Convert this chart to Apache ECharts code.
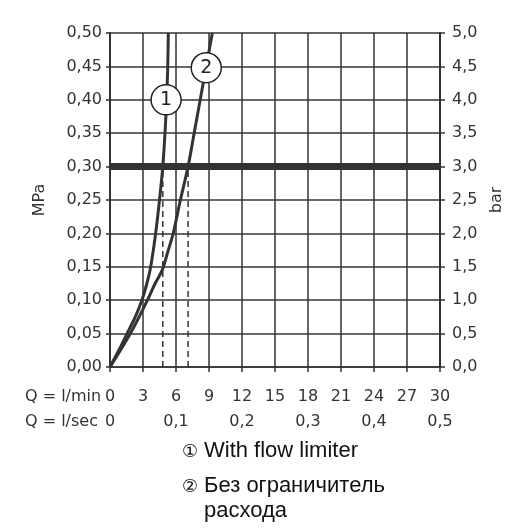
<!DOCTYPE html>
<html><head><meta charset="utf-8">
<script src="https://cdn.jsdelivr.net/npm/echarts@6/dist/echarts.min.js"></script>
<style>html,body{margin:0;padding:0;background:#fff}#c{width:530px;height:530px}</style>
</head><body><div id="c"></div>
<script>
// Flow (l/min) vs pressure (MPa)
const curve1Q = [0, 0.8, 1.55, 2.3, 2.9, 3.35, 3.7, 4.15, 4.5, 4.8, 5.0, 5.15, 5.25, 5.3];
const curve1P = [0, 0.025, 0.05, 0.075, 0.1, 0.125, 0.15, 0.2, 0.25, 0.3, 0.35, 0.4, 0.45, 0.5];
const curve2Q = [0, 0.95, 1.85, 2.65, 3.4, 4.1, 4.75, 5.3, 5.75, 6.4, 7.1, 7.65, 8.2, 8.75, 9.3];
const curve2P = [0, 0.025, 0.05, 0.075, 0.1, 0.125, 0.145, 0.175, 0.2, 0.25, 0.3, 0.35, 0.4, 0.45, 0.5];
const limitP = 0.3;
const dashedQ = [4.8, 7.1];
const markerLabels = ['1', '2'];
const markerQ = [5.1, 8.75];
const markerP = [0.40, 0.448];
const axisTitles = ['Q = l/min', 'Q = l/sec', 'MPa', 'bar'];
const legendTexts = ['With flow limiter', 'Без ограничитель', 'расхода'];
const legendSymbols = ['\u2460', '\u2461'];

const AX = 'DejaVu Sans';
const LG = "'Liberation Sans', 'DejaVu Sans', sans-serif";
const DARK = '#333';
const comma = d => v => v.toFixed(d).replace('.', ',');

const zip = (a, b) => a.map((v, i) => [v, b[i]]);

const chart = echarts.init(document.getElementById('c'), null, {renderer: 'canvas'});
const lineBase = {type: 'line', showSymbol: false, symbol: 'none', silent: true, animation: false};

const series = [
  Object.assign({}, lineBase, {data: zip(curve1Q, curve1P), smooth: 0.25, lineStyle: {color: DARK, width: 3}, z: 3}),
  Object.assign({}, lineBase, {data: zip(curve2Q, curve2P), smooth: 0.25, lineStyle: {color: DARK, width: 3}, z: 3}),
  Object.assign({}, lineBase, {data: [[0, limitP], [30, limitP]], lineStyle: {color: DARK, width: 7}, z: 4}),
];
dashedQ.forEach(q => series.push(Object.assign({}, lineBase, {
  data: [[q, 0], [q, limitP]], lineStyle: {color: DARK, width: 1.5, type: [6, 4]}, z: 2
})));
series.push({
  type: 'scatter', silent: true, animation: false, z: 10,
  data: markerQ.map((q, i) => [q, markerP[i], markerLabels[i]]),
  symbol: 'circle', symbolSize: 30,
  itemStyle: {color: '#fff', borderColor: '#222', borderWidth: 1.5, opacity: 1},
  label: {show: true, position: 'inside', formatter: p => p.data[2], fontSize: 19, color: '#222', fontFamily: AX}
});

const lbl = {fontSize: 16, color: DARK, fontFamily: AX};
chart.setOption({
  animation: false,
  grid: {left: 110, right: 90, top: 33, bottom: 163},
  xAxis: [
    {type: 'value', min: 0, max: 30, interval: 3, position: 'bottom',
      axisLine: {show: true, onZero: false, lineStyle: {color: DARK, width: 1.5}},
      axisTick: {show: true, length: 5, lineStyle: {color: DARK, width: 1.5}},
      axisLabel: Object.assign({margin: 22}, lbl),
      splitLine: {show: true, lineStyle: {color: '#333', width: 1.5}}},
    {type: 'value', min: 0, max: 0.5, interval: 0.1, position: 'bottom', offset: 25,
      axisLine: {show: false}, axisTick: {show: false},
      axisLabel: Object.assign({margin: 22, formatter: v => v === 0 ? '0' : comma(1)(v)}, lbl),
      splitLine: {show: false}}
  ],
  yAxis: [
    {type: 'value', min: 0, max: 0.5, interval: 0.05, position: 'left',
      name: axisTitles[2], nameLocation: 'middle', nameRotate: 90, nameGap: 62,
      nameTextStyle: {fontSize: 16, color: DARK, fontFamily: AX},
      axisLine: {show: true, onZero: false, lineStyle: {color: DARK, width: 2}},
      axisTick: {show: true, length: 4, lineStyle: {color: DARK, width: 1.5}},
      axisLabel: Object.assign({margin: 8, formatter: comma(2)}, lbl),
      splitLine: {show: true, lineStyle: {color: '#333', width: 1.5}}},
    {type: 'value', min: 0, max: 5, interval: 0.5, position: 'right',
      name: axisTitles[3], nameLocation: 'middle', nameRotate: 90, nameGap: 46,
      nameTextStyle: {fontSize: 16, color: DARK, fontFamily: AX},
      axisLine: {show: true, onZero: false, lineStyle: {color: DARK, width: 2}},
      axisTick: {show: true, length: 5, lineStyle: {color: DARK, width: 1.5}},
      axisLabel: Object.assign({margin: 12, formatter: comma(1)}, lbl),
      splitLine: {show: false}}
  ],
  graphic: [
    {type: 'text', left: 25, top: 389, style: {text: axisTitles[0], font: '16px ' + AX, fill: DARK}},
    {type: 'text', left: 25, top: 414, style: {text: axisTitles[1], font: '16px ' + AX, fill: DARK}},
    {type: 'text', left: 182, top: 443, style: {text: legendSymbols[0], font: '18px ' + LG, fill: '#111'}},
    {type: 'text', left: 204, top: 440, style: {text: legendTexts[0], font: '22px ' + LG, fill: '#111'}},
    {type: 'text', left: 182, top: 478, style: {text: legendSymbols[1], font: '18px ' + LG, fill: '#111'}},
    {type: 'text', left: 204, top: 475, style: {text: legendTexts[1], font: '22px ' + LG, fill: '#111'}},
    {type: 'text', left: 204, top: 500, style: {text: legendTexts[2], font: '22px ' + LG, fill: '#111'}}
  ],
  series: series
});
</script></body></html>
